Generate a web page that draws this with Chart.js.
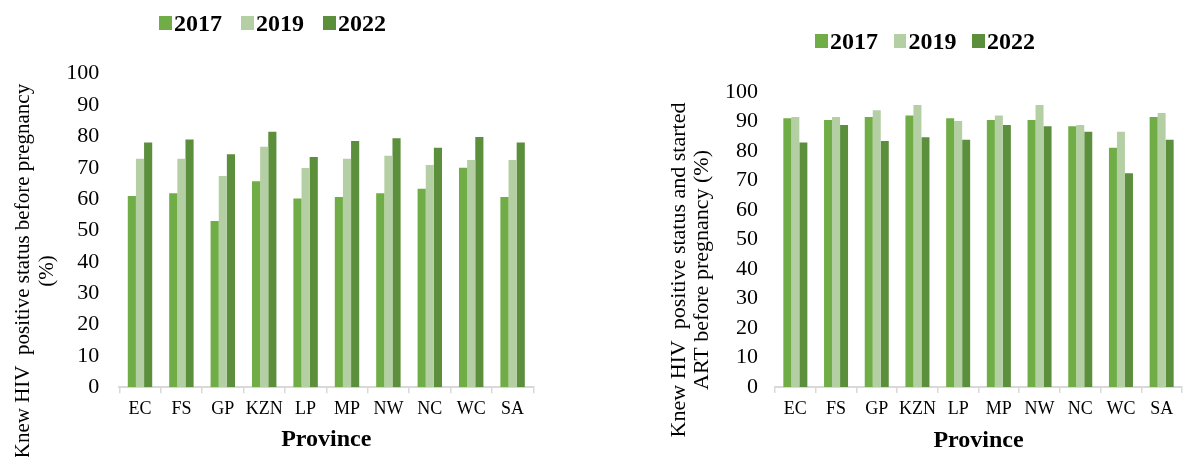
<!DOCTYPE html>
<html>
<head>
<meta charset="utf-8">
<script src="https://cdn.jsdelivr.net/npm/chart.js@4.4.1/dist/chart.umd.min.js"></script>
<style>
    html, body { margin: 0; padding: 0; background: #fff; }
    #page { position: relative; width: 1202px; height: 457px; overflow: hidden; }
    .panel { position: absolute; top: 0; }
    .legend {
        position: absolute;
        display: flex;
        align-items: center;
        font-family: "Liberation Serif", serif;
        font-weight: bold;
        font-size: 24px;
        line-height: 24px;
        color: #000;
        white-space: nowrap;
    }
    .legend .item { display: flex; align-items: center; }
    .legend .box { display: inline-block; width: 12.5px; height: 13.5px; margin-right: 2.5px; }
</style>
</head>
<body>
<div id="page">
    <div class="panel" style="left:0px"><canvas id="knewChart" width="548" height="457"></canvas></div>
    <div class="panel" style="left:652px"><canvas id="artChart" width="550" height="457"></canvas></div>
    <div class="legend" id="legendKnew" style="left:159px; top:11px"></div>
    <div class="legend" id="legendArt" style="left:815px; top:29px"></div>
</div>
<script>
// ===== Datos =====
const provinces = ['EC', 'FS', 'GP', 'KZN', 'LP', 'MP', 'NW', 'NC', 'WC', 'SA'];
const years = ['2017', '2019', '2022'];

// Knew HIV positive status before pregnancy (%)
const knew2017 = [61.0, 61.9, 53.0, 65.7, 60.2, 60.7, 61.9, 63.3, 70.0, 60.7];
const knew2019 = [72.9, 72.9, 67.4, 76.7, 69.9, 72.9, 73.8, 70.9, 72.5, 72.5];
const knew2022 = [78.1, 79.0, 74.3, 81.5, 73.4, 78.5, 79.4, 76.4, 79.8, 78.1];

// Knew status and started ART before pregnancy (%)
const art2017 = [91.1, 90.5, 91.5, 92.0, 91.1, 90.5, 90.5, 88.4, 81.1, 91.5];
const art2019 = [91.5, 91.5, 93.8, 95.6, 90.2, 92.0, 95.6, 88.8, 86.5, 92.9];
const art2022 = [82.9, 88.8, 83.4, 84.7, 83.8, 88.8, 88.4, 86.5, 72.5, 83.8];

const yMin = 0;
const yMax = 100;
const yStep = 10;

const yearColors = ['#70AD47', '#B5CFA5', '#5B8F3B'];
const serif = '"Liberation Serif", "Times New Roman", serif';

// titulos de ejes dibujados a mano (Excel centra el titulo Y fuera del area)
const axisTitles = {
    id: 'axisTitles',
    afterDraw(chart, args, opts) {
        const ctx = chart.ctx;
        const area = chart.chartArea;
        ctx.save();
        ctx.fillStyle = '#000';
        ctx.textAlign = 'center';
        ctx.textBaseline = 'middle';
        ctx.font = 'bold 24px ' + serif;
        ctx.fillText(opts.xTitle, (area.left + area.right) / 2, opts.xTitleY);
        ctx.font = opts.yFont + 'px ' + serif;
        opts.yTitle.forEach((line, i) => {
            ctx.save();
            ctx.translate(opts.yTitleX[i], opts.yTitleY);
            ctx.rotate(-Math.PI / 2);
            ctx.fillText(line, 0, 0);
            ctx.restore();
        });
        ctx.restore();
    }
};

function buildLegend(id, gap) {
    const el = document.getElementById(id);
    years.forEach((y, i) => {
        const item = document.createElement('span');
        item.className = 'item';
        if (i > 0) item.style.marginLeft = gap + 'px';
        const box = document.createElement('span');
        box.className = 'box';
        box.style.background = yearColors[i];
        const txt = document.createElement('span');
        txt.textContent = y;
        item.appendChild(box);
        item.appendChild(txt);
        el.appendChild(item);
    });
}

function crearGrafico(canvasId, series, cfg) {
    const ctx = document.getElementById(canvasId).getContext('2d');
    return new Chart(ctx, {
        type: 'bar',
        data: {
            labels: provinces,
            datasets: series.map((data, i) => ({
                label: years[i],
                data: data,
                backgroundColor: yearColors[i],
                borderWidth: 0,
                categoryPercentage: 0.59,
                barPercentage: 1
            }))
        },
        options: {
            responsive: false,
            animation: false,
            layout: {
                padding: { left: 0, right: cfg.padRight, top: cfg.padTop, bottom: 0 }
            },
            plugins: {
                legend: { display: false },
                tooltip: { enabled: false },
                axisTitles: cfg.titles
            },
            scales: {
                x: {
                    ticks: {
                        color: '#000',
                        font: { family: serif, size: 18 },
                        padding: 5,
                        maxRotation: 0,
                        autoSkip: false
                    },
                    grid: {
                        display: true,
                        drawOnChartArea: false,
                        drawTicks: true,
                        tickLength: 6,
                        color: '#d9d9d9',
                        lineWidth: 1.5,
                        offset: true
                    },
                    border: { display: true, color: '#d9d9d9', width: 2 },
                    afterFit: s => { s.height = cfg.xHeight; }
                },
                y: {
                    min: yMin,
                    max: yMax,
                    ticks: {
                        stepSize: yStep,
                        color: '#000',
                        font: { family: serif, size: 22 },
                        padding: cfg.yPad
                    },
                    grid: { display: false, drawTicks: false },
                    border: { display: false },
                    afterFit: s => { s.width = cfg.yWidth; }
                }
            }
        },
        plugins: [axisTitles]
    });
}

crearGrafico('knewChart', [knew2017, knew2019, knew2022], {
    padRight: 14.7,
    padTop: 73.7,
    xHeight: 69.7,
    yWidth: 119.3,
    yPad: 20,
    titles: {
        xTitle: 'Province',
        xTitleY: 440,
        yTitle: ['Knew HIV  positive status before pregnancy', '(%)'],
        yTitleX: [23, 47],
        yTitleY: 271,
        yFont: 21
    }
});

crearGrafico('artChart', [art2017, art2019, art2022], {
    padRight: 20,
    padTop: 92,
    xHeight: 70,
    yWidth: 123,
    yPad: 17,
    titles: {
        xTitle: 'Province',
        xTitleY: 441,
        yTitle: ['Knew HIV  positive status and started', 'ART before pregnancy (%)'],
        yTitleX: [27.5, 50],
        yTitleY: 270,
        yFont: 22
    }
});

buildLegend('legendKnew', 19);
buildLegend('legendArt', 15.5);
</script>
</body>
</html>
